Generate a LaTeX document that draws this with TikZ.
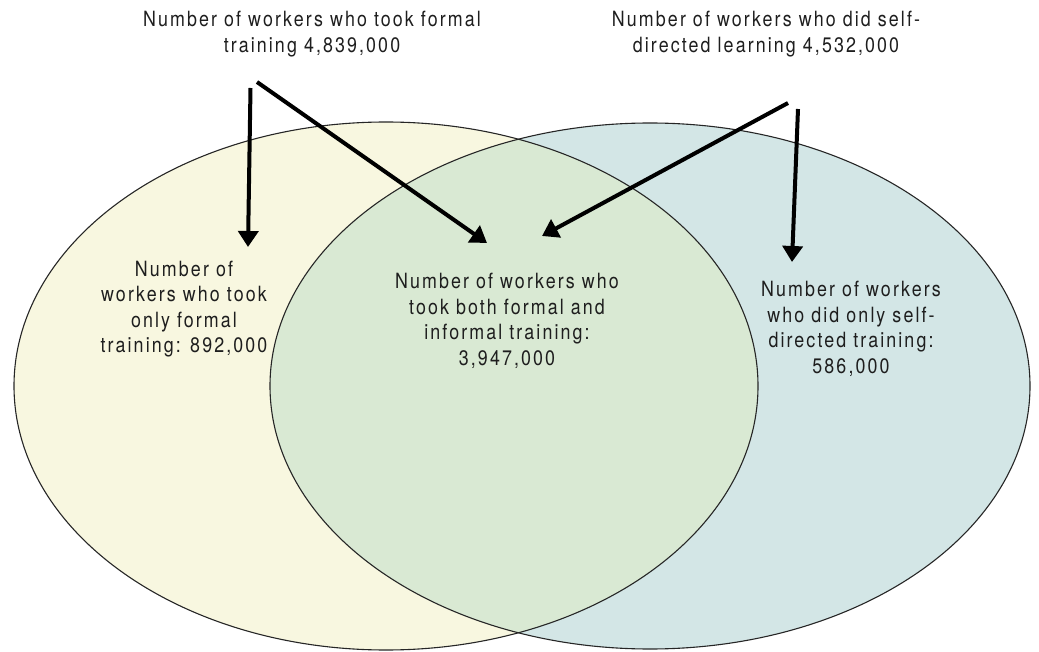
\documentclass[tikz,border=0pt]{standalone}
\usepackage{fontspec}
\setmainfont{TeX Gyre Heros}[FakeStretch=0.85,LetterSpace=10]
\usetikzlibrary{arrows.meta}
\definecolor{venyellow}{HTML}{F8F7E0}
\definecolor{venblue}{HTML}{D3E6E6}
\definecolor{vengreen}{HTML}{D9E9D3}
\definecolor{txt}{HTML}{1E1E1E}
\tikzset{
  lbl/.style={align=center,text=txt,font=\fontsize{21}{25.5}\selectfont,inner sep=0pt},
  ptr/.style={line width=4pt,-{Triangle[width=20pt,length=16pt]}},
  outline/.style={line width=1.1pt,draw=black!85}
}
\begin{document}
\begin{tikzpicture}[x=1pt,y=-1pt]
\useasboundingbox (0,0) rectangle (1039,652);
% fills
\fill[venyellow] (386,386) ellipse [x radius=372pt, y radius=264pt];
\fill[venblue] (650,386) ellipse [x radius=380pt, y radius=263pt];
\begin{scope}
  \clip (386,386) ellipse [x radius=372pt, y radius=264pt];
  \fill[vengreen] (650,386) ellipse [x radius=380pt, y radius=263pt];
\end{scope}
% outlines
\draw[outline] (386,386) ellipse [x radius=372pt, y radius=264pt];
\draw[outline] (650,386) ellipse [x radius=380pt, y radius=263pt];
% labels
\node[lbl] (formal) at (312,34) {Number of workers who took formal\\training 4,839,000};
\node[lbl] (self) at (766,34) {Number of workers who did self-\\directed learning 4,532,000};
\node[lbl] (onlyformal) at (184,309) {Number of\\workers who took\\only formal\\training: 892,000};
\node[lbl] (both) at (507,321) {Number of workers who\\took both formal and\\informal training:\\3,947,000};
\node[lbl] (onlyself) at (851,329) {Number of workers\\who did only self-\\directed training:\\586,000};
% arrow anchors
\coordinate (fA) at (250.5,88);
\coordinate (fAt) at (248,247);
\coordinate (fB) at (257,82);
\coordinate (fBt) at (487,243);
\coordinate (sA) at (788,103);
\coordinate (sAt) at (542,236);
\coordinate (sB) at (798,109);
\coordinate (sBt) at (792,262);
\draw[ptr] (fA) -- (fAt);
\draw[ptr] (fB) -- (fBt);
\draw[ptr] (sA) -- (sAt);
\draw[ptr] (sB) -- (sBt);
\end{tikzpicture}
\end{document}
